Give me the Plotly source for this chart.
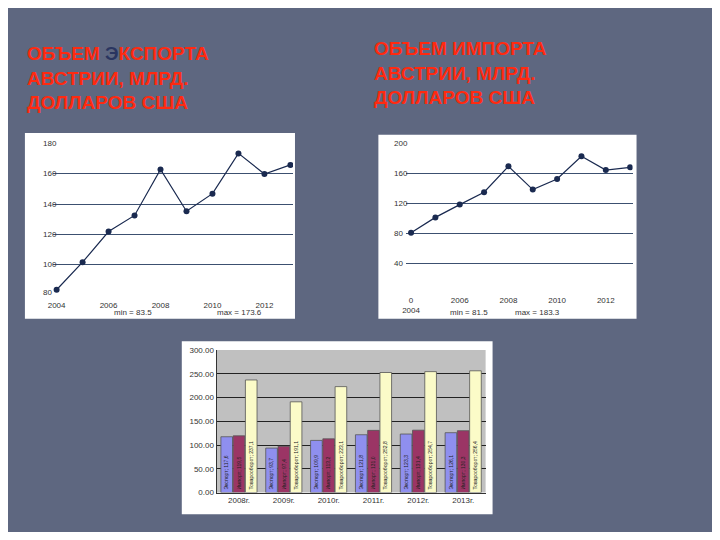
import plotly.graph_objects as go

years = ["2004","2005","2006","2007","2008","2009","2010","2011","2012","2013"]
export_vals = [83.5, 101.7, 122.0, 132.6, 163.0, 135.4, 147.0, 173.6, 160.0, 166.0]
import_vals = [81.5, 102.0, 119.0, 135.5, 170.0, 139.0, 153.0, 183.3, 165.0, 168.6]
tick_idx = [0, 2, 4, 6, 8]
left_ticks = ["2004", "2006", "2008", "2010", "2012"]
right_ticks = ["0<br>2004", "2006", "2008", "2010", "2012"]

bar_years = ["2008г.", "2009г.", "2010г.", "2011г.", "2012г.", "2013г."]
bar_export = [117.6, 93.7, 109.9, 121.8, 123.3, 126.1]
bar_import = [119.5, 97.4, 113.2, 131.0, 131.4, 130.3]
bar_trade = [237.1, 191.1, 223.1, 252.8, 254.7, 256.4]

BG = "#5e6780"
W, H = 704, 524
fig = go.Figure()

def px_x(p): return (p - 8) / W
def px_y(p): return 1 - (p - 8) / H

fig.add_trace(go.Scatter(x=list(range(10)), y=export_vals, mode="lines+markers",
    line=dict(color="#1a2a50", width=1.2), marker=dict(size=6, color="#1a2a50"),
    xaxis="x", yaxis="y", showlegend=False))
fig.add_trace(go.Scatter(x=list(range(10)), y=import_vals, mode="lines+markers",
    line=dict(color="#1a2a50", width=1.2), marker=dict(size=6, color="#1a2a50"),
    xaxis="x2", yaxis="y2", showlegend=False))

for name, vals, col in [("Экспорт", bar_export, "#8f8fef"), ("Импорт", bar_import, "#9b3565"), ("Товарооборот", bar_trade, "#fbfbc8")]:
    fig.add_trace(go.Bar(x=bar_years, y=vals, name=name, marker=dict(color=col, line=dict(color="#555", width=0.8)),
        text=[f"{name}; {v:.1f}".replace(".", ",") for v in vals], textposition="inside",
        textangle=-90, insidetextanchor="start", textfont=dict(size=9, color="#222", family="Liberation Sans"),
        xaxis="x3", yaxis="y3", showlegend=False))

tfnt = dict(size=8, color="#333", family="Liberation Sans")
fig.update_layout(
    width=W, height=H, margin=dict(l=0, r=0, t=0, b=0), paper_bgcolor=BG, plot_bgcolor="rgba(0,0,0,0)",
    bargap=0.18, bargroupgap=0.05,
    xaxis=dict(domain=[px_x(48), px_x(290)], range=[-0.15, 9.1], tickvals=tick_idx, ticktext=left_ticks, showgrid=False, anchor="y", zeroline=False, tickfont=tfnt, ticklabelstandoff=4),
    yaxis=dict(domain=[px_y(296), px_y(142)], range=[80, 180], dtick=20, showgrid=True, gridcolor="#3c5070", anchor="x", showticklabels=False, zeroline=False),
    xaxis2=dict(domain=[px_x(404), px_x(632)], range=[-0.2, 9.1], tickvals=tick_idx, ticktext=right_ticks, showgrid=False, anchor="y2", zeroline=False, tickfont=tfnt),
    yaxis2=dict(domain=[px_y(295), px_y(142)], range=[0, 200], dtick=40, showgrid=True, gridcolor="#3c5070", anchor="x2", showticklabels=False, zeroline=False),
    xaxis3=dict(domain=[px_x(213), px_x(484)], showgrid=False, anchor="y3", showline=True, linecolor="#333", tickfont=tfnt),
    yaxis3=dict(domain=[px_y(497), px_y(352)], range=[0, 300], dtick=50, tickformat=".2f", showgrid=True, gridcolor="#222", anchor="x3", showline=True, linecolor="#333", zeroline=False, tickfont=tfnt),
)
shapes = [
    dict(type="rect", xref="paper", yref="paper", x0=px_x(20), x1=px_x(292), y0=px_y(320), y1=px_y(131), fillcolor="white", line=dict(width=0), layer="below"),
    dict(type="rect", xref="paper", yref="paper", x0=px_x(376), x1=px_x(636), y0=px_y(320), y1=px_y(133), fillcolor="white", line=dict(width=0), layer="below"),
    dict(type="rect", xref="paper", yref="paper", x0=px_x(178), x1=px_x(491), y0=px_y(519), y1=px_y(343), fillcolor="white", line=dict(width=0), layer="below"),
    dict(type="rect", xref="x3 domain", yref="y3 domain", x0=0, x1=1, y0=0, y1=1, fillcolor="#c0c0c0", line=dict(width=0), layer="below"),
]
fig.update_layout(shapes=shapes)

ann = []
for v, lab in zip([80, 100, 120, 140, 160, 180], ["80", "100", "120", "140", "160", "180"]):
    ann.append(dict(x=px_x(36), y=v, xref="paper", yref="y", text=lab, showarrow=False, xanchor="left", font=tfnt,
                    yshift=3 if v == 80 else 0))
for v, lab in zip([40, 80, 120, 160, 200], ["40", "80", "120", "160", "200"]):
    ann.append(dict(x=px_x(390), y=v, xref="paper", yref="y2", text=lab, showarrow=False, xanchor="left", font=tfnt))
ann += [
    dict(x=px_x(108), y=px_y(314), xref="paper", yref="paper", text="min = 83.5", showarrow=False, font=tfnt),
    dict(x=px_x(211), y=px_y(314), xref="paper", yref="paper", text="max = 173.6", showarrow=False, font=tfnt),
    dict(x=px_x(467), y=px_y(314), xref="paper", yref="paper", text="min = 81.5", showarrow=False, font=tfnt),
    dict(x=px_x(561), y=px_y(314), xref="paper", yref="paper", text="max = 183.3", showarrow=False, font=tfnt),
]
tf = dict(size=19, color="#ff2a10", family="Liberation Sans")
ann += [
    dict(x=px_x(20), y=px_y(75), xref="paper", yref="paper", xanchor="left", yanchor="middle", showarrow=False, align="left",
         text="<b>ОБЪЕМ <span style='color:#2a3560'>Э</span>КСПОРТА<br>АВСТРИИ, МЛРД.<br>ДОЛЛАРОВ США</b>", font=tf),
    dict(x=px_x(370), y=px_y(70), xref="paper", yref="paper", xanchor="left", yanchor="middle", showarrow=False, align="left",
         text="<b>ОБЪЕМ ИМПОРТА<br>АВСТРИИ, МЛРД.<br>ДОЛЛАРОВ США</b>", font=tf),
]
fig.update_layout(annotations=ann)
fig.write_html("out.html")
